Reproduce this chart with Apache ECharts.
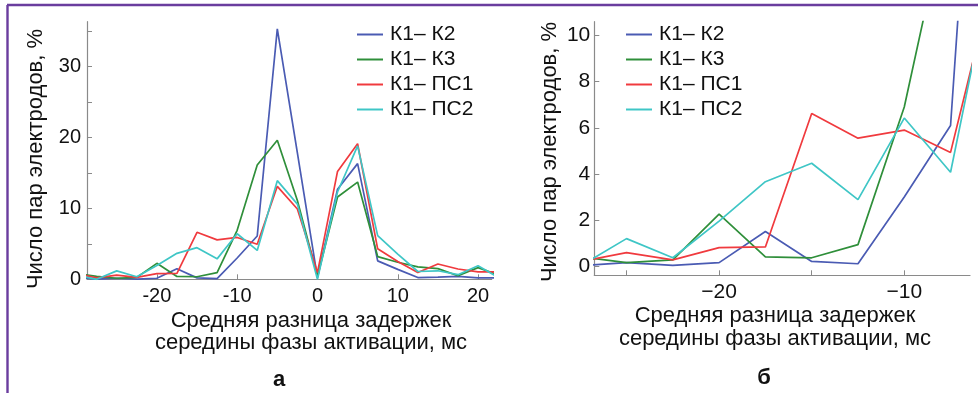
<!DOCTYPE html>
<html>
<head>
<meta charset="utf-8">
<script src="https://cdn.jsdelivr.net/npm/echarts@6/dist/echarts.min.js"></script>
<style>
html,body{margin:0;padding:0;background:#fff;}
#c{width:978px;height:393px;}
</style>
</head>
<body>
<div id="c"></div>
<script>
// Bin centres, ms
const delays = [-30,-27.5,-25,-22.5,-20,-17.5,-15,-12.5,-10,-7.5,-5,-2.5,0,2.5,5,7.5,10,12.5,15,17.5,20,22.5];
// Число пар электродов, %
const k1k2  = [0.3,0.02,0.15,0.03,0.15,1.5,0.2,0.1,3.0,6.1,35.3,17.8,0.25,12.7,16.3,2.6,1.4,0.25,0.3,0.4,0.2,0.2];
const k1k3  = [0.8,0.4,0.15,0.27,2.25,0.4,0.36,0.93,6.9,16.1,19.6,11.1,0.4,11.6,13.7,3.2,2.4,1.75,1.5,0.5,1.65,0.62];
const k1ps1 = [0.8,0.2,0.58,0.27,0.8,0.83,6.62,5.55,5.9,4.93,13.1,9.9,0.95,15.2,19.1,4.3,2.5,0.95,2.15,1.45,1.05,1.05];
const k1ps2 = [0.6,0.0,1.19,0.36,1.95,3.66,4.46,2.88,6.42,4.07,13.9,10.6,0.0,12.3,18.8,6.15,3.55,1.1,1.2,0.65,1.9,0.28];
const seriesNames = ['К1– К2','К1– К3','К1– ПС1','К1– ПС2'];
const seriesColors = ['#4a5bb3','#2f8f3a','#f03a3e','#3fc6c6'];
// Tick values
const aXTicks = [-20,-10,0,10,20];
const aYTicks = [0,5,10,15,20,25,30,35];
const aYLabels = [0,10,20,30];
const bXTicks = [-25,-20,-15,-10];
const bXLabels = [-20,-10];
const bYTicks = [0,2,4,6,8,10];
const yTitle = 'Число пар электродов, %';
const xTitle1 = 'Средняя разница задержек';
const xTitle2 = 'середины фазы активации, мс';
const panelLabels = ['а','б'];

const FONT = '"Liberation Sans", Arial, sans-serif';
const allData = [k1k2,k1k3,k1ps1,k1ps2];
const axisGrey = '#8a8a8a';

function mkSeries(gi){
  return allData.map((arr,i)=>({
    name: seriesNames[i], type:'line', xAxisIndex:gi, yAxisIndex:gi,
    data: delays.map((x,j)=>[x,arr[j]]), showSymbol:false, symbol:'none',
    clip:true, lineStyle:{width:1.7,color:seriesColors[i]}, itemStyle:{color:seriesColors[i]},
    emphasis:{disabled:true}, animation:false
  }));
}
function xAx(gi,min,max,ticks,labels,minusChar){
  return {type:'value',gridIndex:gi,min:min,max:max,
    axisLine:{show:true,onZero:false,lineStyle:{color:axisGrey,width:1.2}},
    axisTick:{show:true,inside:true,length:5,customValues:ticks,lineStyle:{color:axisGrey}},
    axisLabel:{customValues:labels,color:'#111',fontFamily:FONT,fontSize:gi?21:20,margin:gi?6:7,
      formatter:v=>String(v).replace('-',minusChar)},
    splitLine:{show:false}};
}
function yAx(gi,min,max,ticks,labels){
  return {type:'value',gridIndex:gi,min:min,max:max,
    axisLine:{show:true,onZero:false,lineStyle:{color:axisGrey,width:1.2}},
    axisTick:{show:true,inside:true,length:5,customValues:ticks,lineStyle:{color:axisGrey}},
    axisLabel:{customValues:labels,color:'#111',fontFamily:FONT,fontSize:gi?21:20,margin:gi?4:6},
    splitLine:{show:false}};
}
function legend(left){
  return {orient:'vertical',left:left,top:24,padding:0,itemWidth:26,itemHeight:2,icon:'rect',itemGap:4,
    data:seriesNames, selectedMode:false,
    textStyle:{fontFamily:FONT,fontSize:21,lineHeight:21,color:'#111',padding:[0,0,0,2]}};
}
const chart = echarts.init(document.getElementById('c'),null,{renderer:'canvas'});
chart.setOption({
  animation:false,
  backgroundColor:'#fff',
  grid:[
    {left:87,top:21.7,width:404.7,height:257.6},
    {left:594.3,top:21.7,width:375.7,height:253.6}
  ],
  xAxis:[
    xAx(0,-28.7,21.7,aXTicks,aXTicks,'-'),
    xAx(1,-26.74,-6.45,bXTicks,bXLabels,'−')
  ],
  yAxis:[
    yAx(0,0,36.3,aYTicks,aYLabels),
    yAx(1,-0.4,10.6,bYTicks,bYTicks)
  ],
  legend:[legend(357),legend(626)],
  series:[...mkSeries(0),...mkSeries(1)],
  graphic:[
    {type:'line',shape:{x1:7,y1:5,x2:978,y2:5},style:{stroke:'#6a3d9e',lineWidth:2.6},silent:true},
    {type:'line',shape:{x1:7.5,y1:5,x2:7.5,y2:393},style:{stroke:'#6a3d9e',lineWidth:2.4},silent:true},
    {type:'text',x:36,y:159,rotation:Math.PI/2,style:{text:yTitle,font:'22px '+FONT,fill:'#111',align:'center',verticalAlign:'middle'}},
    {type:'text',x:550,y:152,rotation:Math.PI/2,style:{text:yTitle,font:'22px '+FONT,fill:'#111',align:'center',verticalAlign:'middle'}},
    {type:'text',x:311,y:321,style:{text:xTitle1,font:'22px '+FONT,fill:'#111',align:'center',verticalAlign:'middle'}},
    {type:'text',x:311,y:343,style:{text:xTitle2,font:'22px '+FONT,fill:'#111',align:'center',verticalAlign:'middle'}},
    {type:'text',x:775,y:316,style:{text:xTitle1,font:'22px '+FONT,fill:'#111',align:'center',verticalAlign:'middle'}},
    {type:'text',x:775,y:339,style:{text:xTitle2,font:'22px '+FONT,fill:'#111',align:'center',verticalAlign:'middle'}},
    {type:'text',x:279,y:380,style:{text:panelLabels[0],font:'bold 22px '+FONT,fill:'#111',align:'center',verticalAlign:'middle'}},
    {type:'text',x:764,y:378,style:{text:panelLabels[1],font:'bold 22px '+FONT,fill:'#111',align:'center',verticalAlign:'middle'}}
  ]
});
</script>
</body>
</html>
